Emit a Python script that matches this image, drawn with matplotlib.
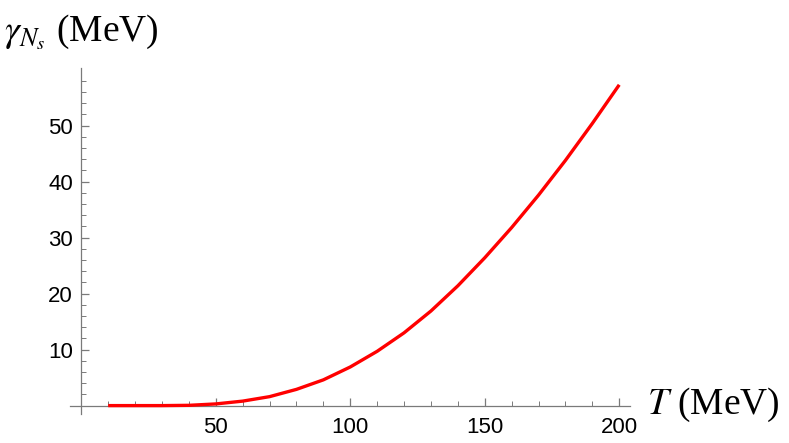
import numpy as np
import matplotlib.pyplot as plt
from matplotlib.ticker import MultipleLocator, FixedLocator

# ── Data ────────────────────────────────────────────────────
T_MEV = [10, 20, 30, 40, 50, 60, 70, 80, 90, 100,
         110, 120, 130, 140, 150, 160, 170, 180, 190, 200]
GAMMA = [0.0, 0.0, 0.0, 0.05, 0.3, 0.8, 1.6, 2.9, 4.6, 6.9,
         9.7, 13.0, 16.9, 21.4, 26.4, 31.8, 37.6, 43.8, 50.4, 57.3]

X_TICKS = [50, 100, 150, 200]
Y_TICKS = [10, 20, 30, 40, 50]

plt.rcParams['mathtext.fontset'] = 'stix'

W, H = 789, 443
fig = plt.figure(figsize=(W / 100, H / 100), dpi=100)
ax = fig.add_axes([70 / W, (H - 414) / H, (630 - 70) / W, (414 - 68) / H])

ax.plot(T_MEV, GAMMA, color='#ff0000', lw=2.4, solid_capstyle='butt', zorder=3)

ax.set_xlim(-4.2, 204)
ax.set_ylim(-1.5, 60.3)

axis_col = '#7a7a7a'
for side in ['top', 'right']:
    ax.spines[side].set_visible(False)
ax.spines['left'].set_position(('data', 0))
ax.spines['bottom'].set_position(('data', 0))
for side in ['left', 'bottom']:
    ax.spines[side].set_color(axis_col)
    ax.spines[side].set_linewidth(0.9)

ax.xaxis.set_major_locator(FixedLocator(X_TICKS))
ax.yaxis.set_major_locator(FixedLocator(Y_TICKS))
ax.xaxis.set_minor_locator(FixedLocator([v for v in range(10, 201, 10) if v not in X_TICKS]))
ax.yaxis.set_minor_locator(FixedLocator([v for v in range(2, 60, 2) if v not in Y_TICKS]))

ax.tick_params(which='major', direction='in', length=5.5, width=0.9, color=axis_col,
               labelsize=16, labelcolor='black')
ax.tick_params(which='minor', direction='in', length=3.5, width=0.7, color=axis_col)
ax.tick_params(axis='x', pad=8)
ax.tick_params(axis='y', pad=6)
for lab in ax.get_xticklabels() + ax.get_yticklabels():
    lab.set_family('Liberation Sans')

fig.text(647 / W, (H - 405) / H, r'$T$ (MeV)', family='Liberation Serif',
         fontsize=27, ha='left', va='center')
fig.text(4 / W, (H - 32) / H, r'$\gamma_{N_s}$ (MeV)', family='Liberation Serif',
         fontsize=27, ha='left', va='center')

fig.savefig('out.png', dpi=100)
